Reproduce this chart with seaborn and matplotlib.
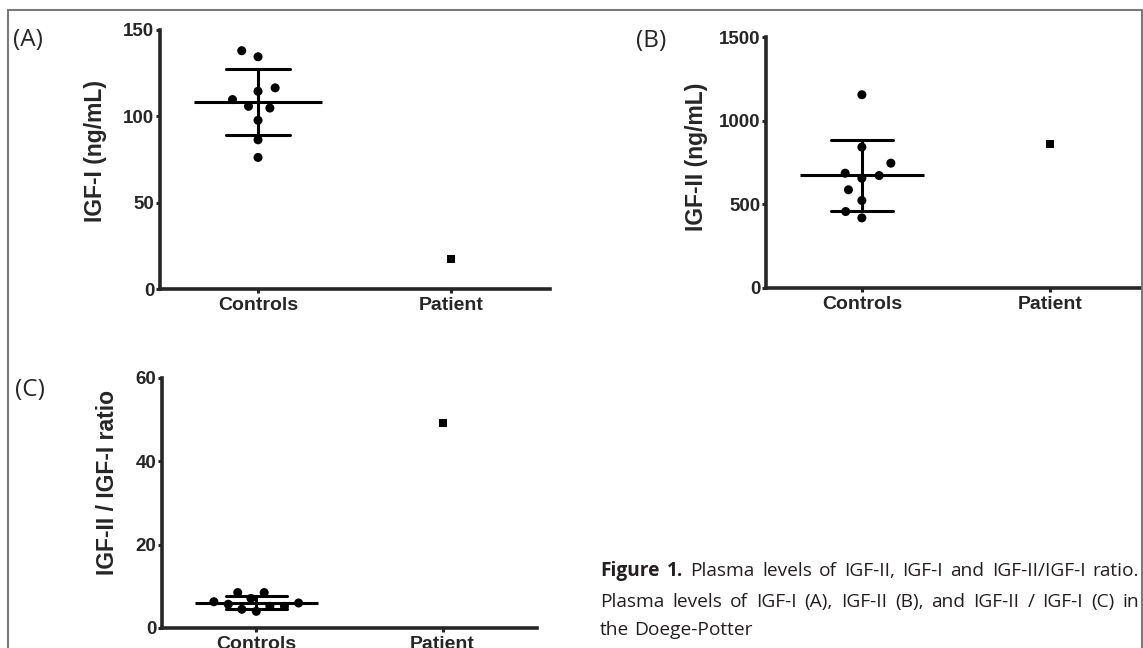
import numpy as np
import pandas as pd
import matplotlib
matplotlib.use("Agg")
import matplotlib.pyplot as plt
from matplotlib.patches import Rectangle
import seaborn as sns

groups = ["Controls", "Patient"]

# values
igf1_controls = [138, 134.5, 116.5, 114.5, 109.7, 105.8, 104.8, 97.7, 86.4, 76.2]
igf1_patient = [17.3]
igf2_controls = [1155, 842, 746, 686, 672, 656, 587, 523, 457, 419]
igf2_patient = [862]
ratio_controls = [8.5, 8.5, 7.1, 6.3, 6.0, 5.7, 5.2, 5.2, 4.5, 4.0]
ratio_patient = [49.1]

ylabels = ["IGF-I (ng/mL)", "IGF-II (ng/mL)", "IGF-II / IGF-I ratio"]
yticks_a = [0, 50, 100, 150]
yticks_b = [0, 500, 1000, 1500]
yticks_c = [0, 20, 40, 60]

caption_bold = "Figure 1."
caption_lines = ["Plasma levels of IGF-II, IGF-I and IGF-II/IGF-I ratio.",
                 "Plasma levels of IGF-I (A), IGF-II (B), and IGF-II / IGF-I (C) in",
                 "the Doege-Potter"]

sns.set_style("ticks")
plt.rcParams["font.family"] = ["Liberation Sans", "DejaVu Sans"]

W, H = 1143, 648
fig = plt.figure(figsize=(W / 100, H / 100), dpi=100)


def px_rect(left, top, right, bottom):
    return [left / W, 1 - bottom / H, (right - left) / W, (bottom - top) / H]


def draw_panel(ax, controls, patient, ylabel, yticks, xlim, label_xy, spread):
    ctrl = pd.DataFrame({"group": "Controls", "value": controls})
    pat = pd.DataFrame({"group": "Patient", "value": patient})
    sns.pointplot(data=ctrl, x="group", y="value", order=groups, errorbar="sd",
                  capsize=0.33, color="black", markers="", linestyles="none",
                  err_kws={"linewidth": 2.2}, ax=ax)
    # invisible edge widens the swarm spacing, like the GraphPad layout
    sns.swarmplot(data=ctrl, x="group", y="value", order=groups, color="black",
                  size=6.5, linewidth=spread, edgecolor="none", ax=ax, zorder=3)
    sns.stripplot(data=pat, x="group", y="value", order=groups, color="black",
                  marker="s", size=6, jitter=False, ax=ax, zorder=3)
    ax.hlines(ctrl["value"].mean(), -0.33, 0.33, color="black", lw=2.2)

    ax.set_xlim(*xlim)
    ax.set_ylim(yticks[0], yticks[-1])
    ax.set_yticks(yticks)
    ax.set_xlabel("")
    ax.set_ylabel(ylabel, fontsize=16.5, fontweight="bold")
    ax.yaxis.set_label_coords(*label_xy)
    sns.despine(ax=ax)
    for s in ["left", "bottom"]:
        ax.spines[s].set_linewidth(2.6)
    ax.tick_params(axis="both", width=2.2, length=3, pad=1.5)
    ax.tick_params(axis="x", labelsize=14, pad=3)
    ax.tick_params(axis="y", labelsize=13.5, pad=1)
    for t in ax.get_xticklabels() + ax.get_yticklabels():
        t.set_fontweight("bold")
    ax.set_facecolor("none")


ax_a = fig.add_axes(px_rect(160, 30, 550, 289))
draw_panel(ax_a, igf1_controls, igf1_patient, ylabels[0], yticks_a,
           (-0.508, 1.513), (-0.136, 0.533), 5.5)

ax_b = fig.add_axes(px_rect(766, 37, 1141, 288))
draw_panel(ax_b, igf2_controls, igf2_patient, ylabels[1], yticks_b,
           (-0.51, 1.485), (-0.154, 0.522), 5.5)

ax_c = fig.add_axes(px_rect(162, 378, 537, 628))
draw_panel(ax_c, ratio_controls, ratio_patient, ylabels[2], yticks_c,
           (-0.506, 1.507), (-0.116, 0.582), 3.5)

# panel letters
letter_font = dict(family=["Open Sans", "DejaVu Sans"], fontsize=17.5, va="center", ha="left")
fig.text(13 / W, 1 - 40 / H, "(A)", **letter_font)
fig.text(636 / W, 1 - 41 / H, "(B)", **letter_font)
fig.text(15 / W, 1 - 390 / H, "(C)", **letter_font)

# caption, justified between left and right edges
cap_font = dict(family=["Open Sans", "DejaVu Sans"], fontsize=13.8, va="baseline", ha="left",
                color="#231f20")
renderer = fig.canvas.get_renderer()
cap_left, cap_right = 600, 1139


def caption_line(words, weights, y, justify):
    texts = [fig.text(0, 1 - y / H, w, fontweight=wt, **cap_font) for w, wt in zip(words, weights)]
    widths = [t.get_window_extent(renderer).width for t in texts]
    probe1 = fig.text(0, 0, "a a", **cap_font)
    probe2 = fig.text(0, 0, "aa", **cap_font)
    space = probe1.get_window_extent(renderer).width - probe2.get_window_extent(renderer).width
    probe1.remove()
    probe2.remove()
    if justify and len(words) > 1:
        gap = max(space, (cap_right - cap_left - sum(widths)) / (len(words) - 1))
    else:
        gap = space
    x = cap_left
    for t, w in zip(texts, widths):
        t.set_x(x / W)
        x += w + gap


line1 = caption_bold.split() + caption_lines[0].split()
caption_line(line1, ["bold"] * 2 + ["normal"] * (len(line1) - 2), 576, True)
line2 = caption_lines[1].split()
caption_line(line2, ["normal"] * len(line2), 607, True)
line3 = caption_lines[2].split()
caption_line(line3, ["normal"] * len(line3), 635, False)

# frame around the figure
fig.add_artist(Rectangle((7.5 / W, -0.1), (1141.5 - 7.5) / W, 1.1 - 10.5 / H,
                         transform=fig.transFigure, fill=False,
                         edgecolor="#7a7a7a", linewidth=1.5, zorder=10))

fig.savefig("out.png", dpi=100)
